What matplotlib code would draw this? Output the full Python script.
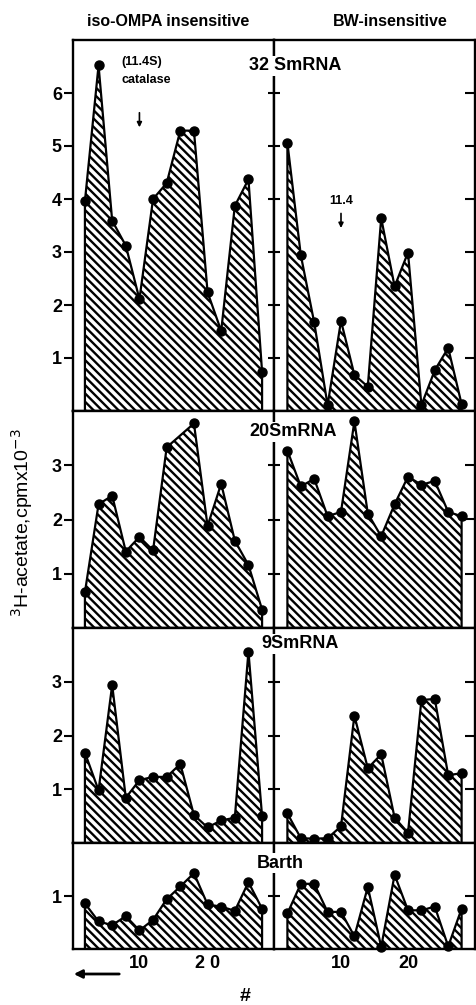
import numpy as np
import matplotlib
matplotlib.use("Agg")
import matplotlib.pyplot as plt

# fraction numbers shared by every profile
fractions = [2, 4, 6, 8, 10, 12, 14, 16, 18, 20, 22, 24, 26, 28]

# 3H-acetate, cpm x 10^-3
iso_32s = [3.96, 6.52, 3.59, 3.12, 2.11, 4.00, 4.30, 5.29, 5.29, 2.24, 1.51, 3.87, 4.37, 0.74]
bw_32s = [5.06, 2.94, 1.67, 0.11, 1.70, 0.68, 0.46, 3.64, 2.35, 2.99, 0.11, 0.77, 1.19, 0.13]
iso_20s = [0.66, 2.28, 2.44, 1.41, 1.68, 1.43, 3.33, np.nan, 3.77, 1.88, 2.66, 1.61, 1.16, 0.34]
bw_20s = [3.27, 2.61, 2.75, 2.06, 2.14, 3.81, 2.11, 1.69, 2.28, 2.79, 2.64, 2.71, 2.14, 2.06]
iso_9s = [1.68, 0.98, 2.94, 0.84, 1.17, 1.23, 1.23, 1.47, 0.52, 0.29, 0.42, 0.47, 3.56, 0.50]
bw_9s = [0.55, 0.09, 0.08, 0.09, 0.31, 2.37, 1.39, 1.65, 0.47, 0.19, 2.66, 2.68, 1.26, 1.30]
iso_barth = [0.86, 0.52, 0.45, 0.62, 0.35, 0.55, 0.94, 1.18, 1.43, 0.84, 0.80, 0.72, 1.26, 0.76]
bw_barth = [0.67, 1.23, 1.23, 0.70, 0.70, 0.24, 1.17, 0.04, 1.40, 0.73, 0.73, 0.80, 0.05, 0.76]

rows = [
    ("32 SmRNA", iso_32s, bw_32s, 7, [1, 2, 3, 4, 5, 6]),
    ("20SmRNA", iso_20s, bw_20s, 4, [1, 2, 3]),
    ("9SmRNA", iso_9s, bw_9s, 4, [1, 2, 3]),
    ("Barth", iso_barth, bw_barth, 2, [1]),
]
column_titles = ["iso-OMPA insensitive", "BW-insensitive"]
x_ticks = [10, 20]
x_ticklabels_left = ["10", "2 0"]
x_ticklabels_right = ["10", "20"]

W, H = 476, 1005
plt.rcParams["font.family"] = ["Liberation Sans", "DejaVu Sans"]
plt.rcParams["hatch.linewidth"] = 1.7

fig = plt.figure(figsize=(W / 100, H / 100), dpi=100)

# panel edges in pixels (from top)
row_edges = [40, 411, 628, 843, 949]
col_left = [73, 274]
col_width = 201
label_x = [295, 293, 300, 280]
label_y = [66, 432, 644, 863]


def fx(px):
    return px / W


def fy(py):
    return 1 - py / H


def draw_profile(ax, vals):
    x = np.array(fractions, dtype=float)
    y = np.array(vals, dtype=float)
    ok = ~np.isnan(y)
    x, y = x[ok], y[ok]
    ax.fill_between(x, y, 0, facecolor="white", edgecolor="black",
                    hatch="\\\\\\\\", linewidth=1.6, zorder=2)
    ax.plot(x, y, "o", color="black", markersize=6.5, clip_on=False, zorder=3)


axes = []
for r, (name, left_vals, right_vals, ymax, yticks) in enumerate(rows):
    top, bot = row_edges[r], row_edges[r + 1]
    for c, vals in enumerate([left_vals, right_vals]):
        ax = fig.add_axes([fx(col_left[c]), fy(bot), fx(col_width), (bot - top) / H])
        draw_profile(ax, vals)
        ax.set_ylim(0, ymax)
        ax.set_yticks(yticks)
        for s in ax.spines.values():
            s.set_linewidth(1.7)
        if c == 0:
            ax.set_xlim(0.25, 29.75)
            ax.tick_params(axis="y", direction="out", length=6.5, width=1.5,
                           pad=1.5, labelsize=13)
            for t in ax.get_yticklabels():
                t.set_fontweight("bold")
        else:
            ax.set_xlim(0, 30)
            ax.tick_params(axis="y", direction="inout", length=9, width=1.5,
                           labelleft=False)
            sec = ax.secondary_yaxis("right")
            sec.set_yticks(yticks)
            sec.tick_params(direction="in", length=7, width=1.5, labelright=False)
        ax.set_xticks(x_ticks)
        if r == len(rows) - 1:
            ax.set_xticklabels(x_ticklabels_left if c == 0 else x_ticklabels_right,
                               fontweight="bold")
            ax.tick_params(axis="x", length=0, pad=4, labelsize=13)
        else:
            ax.tick_params(axis="x", length=0, labelbottom=False)
        axes.append(ax)

    fig.text(fx(label_x[r]), fy(label_y[r]), name, ha="center", va="center",
             fontsize=13, fontweight="bold",
             bbox=dict(facecolor="white", edgecolor="none", pad=1), zorder=5)

# column headers
fig.text(fx(168), fy(22), column_titles[0], ha="center", va="center",
         fontsize=11.5, fontweight="bold")
fig.text(fx(390), fy(22), column_titles[1], ha="center", va="center",
         fontsize=11.5, fontweight="bold")

# y label
fig.text(fx(22), fy(523), r"$^{3}$H-acetate,cpmx10$^{-3}$", rotation=90,
         ha="center", va="center", fontsize=14)

# markers for catalase
ax_tl, ax_tr = axes[0], axes[1]
ax_tl.text(7.4, 6.58, "(11.4S)", ha="left", va="center", fontsize=9, fontweight="bold")
ax_tl.text(7.4, 6.25, "catalase", ha="left", va="center", fontsize=9, fontweight="bold")
ax_tl.annotate("", xy=(10, 5.3), xytext=(10, 5.68),
               arrowprops=dict(arrowstyle="-|>", color="black", lw=1.2, mutation_scale=7))
ax_tr.text(10, 3.96, "11.4", ha="center", va="center", fontsize=9, fontweight="bold")
ax_tr.annotate("", xy=(10, 3.4), xytext=(10, 3.78),
               arrowprops=dict(arrowstyle="-|>", color="black", lw=1.2, mutation_scale=7))

# direction arrow and axis symbol
fig.add_artist(matplotlib.patches.FancyArrowPatch(
    (fx(122), fy(974)), (fx(71), fy(974)), transform=fig.transFigure,
    arrowstyle="-|>", mutation_scale=12, color="black", lw=2))
fig.text(fx(245), fy(996), "#", ha="center", va="center", fontsize=14, fontweight="bold")

fig.savefig("out.png", dpi=100)
